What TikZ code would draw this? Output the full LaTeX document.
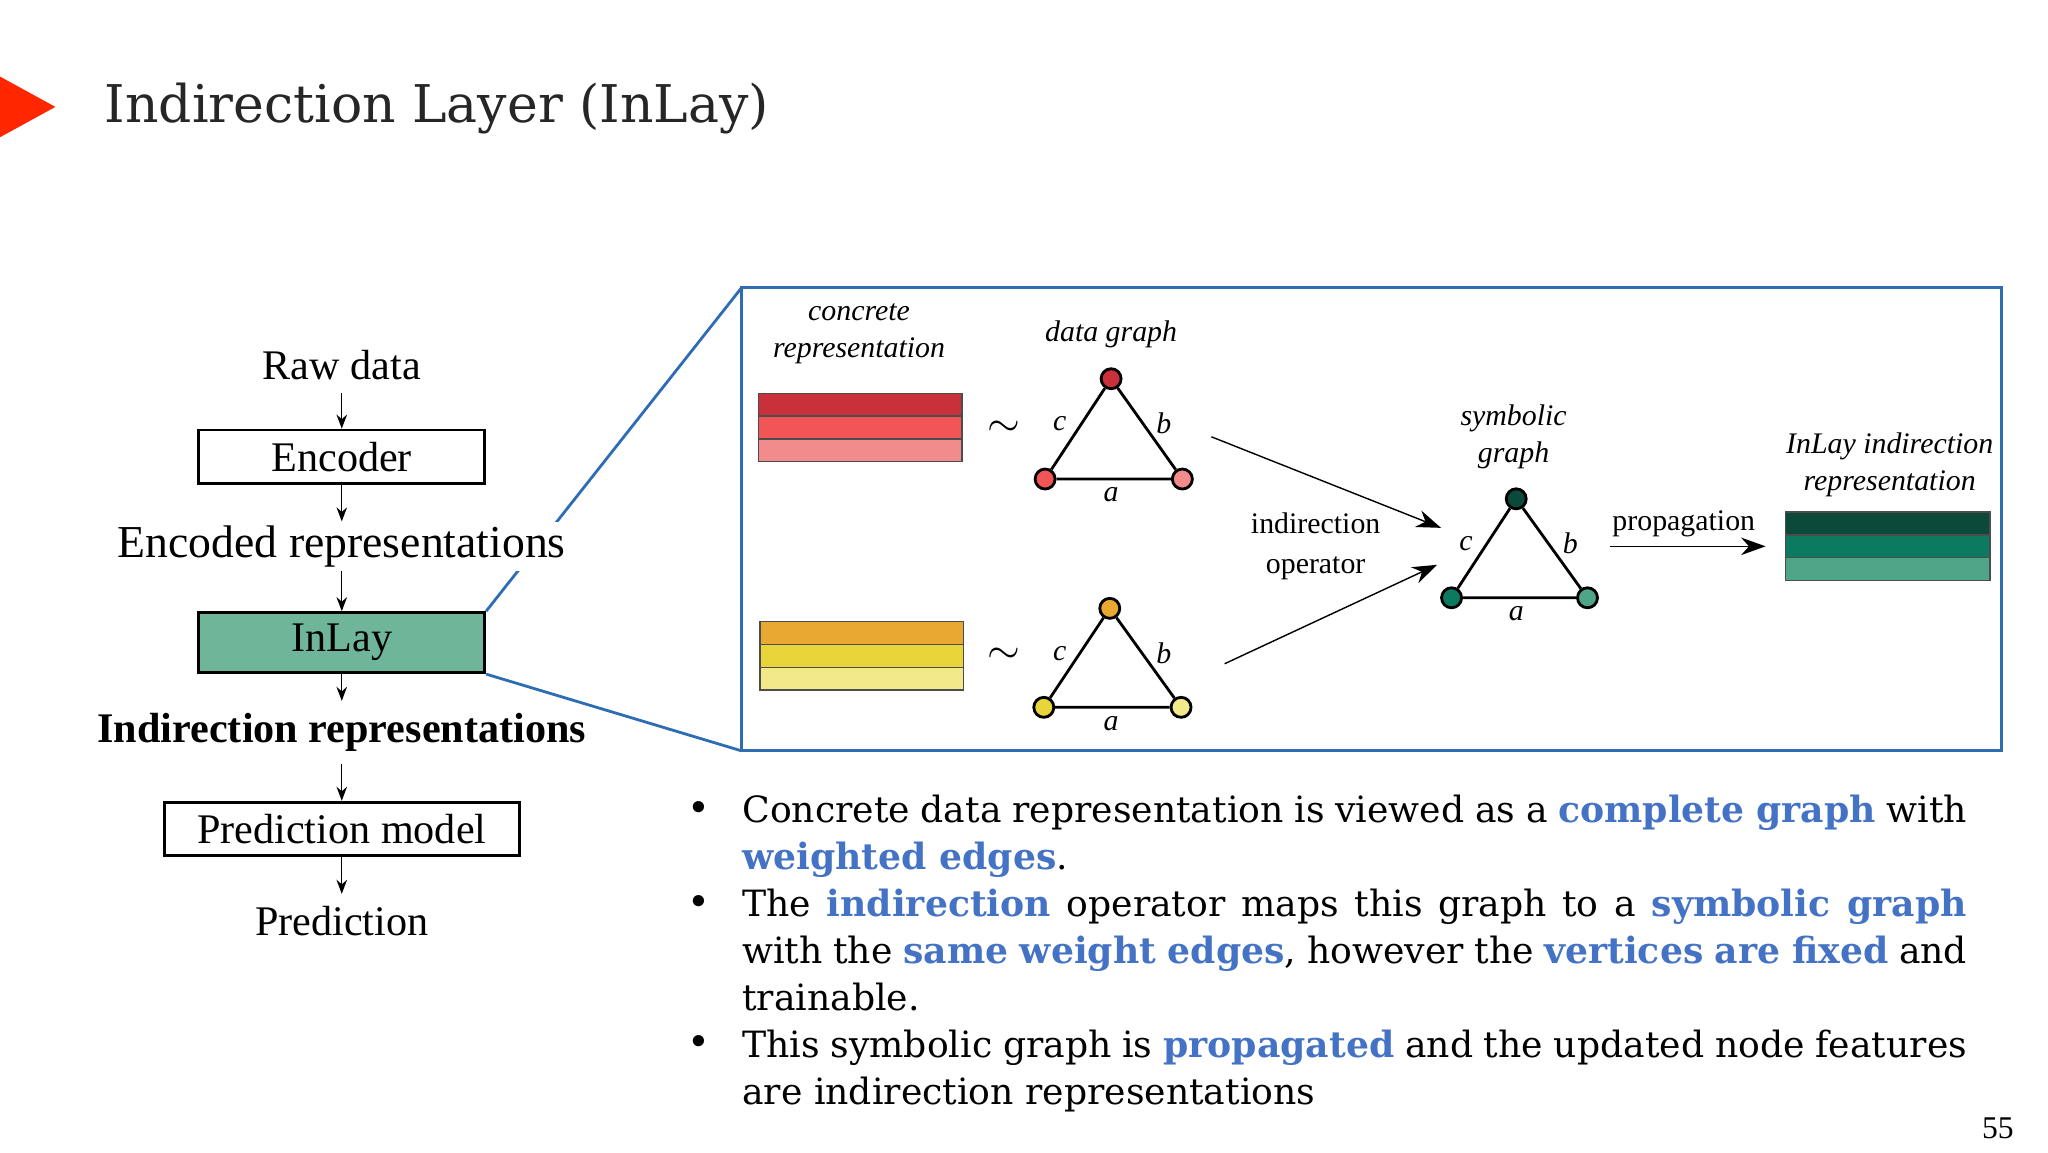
\documentclass[tikz,border=0pt]{standalone}
\usepackage{fontspec}
\setmainfont{DejaVu Serif}
\newfontfamily\tms{Liberation Serif}
\usetikzlibrary{arrows.meta}
\definecolor{hl}{HTML}{4472C4}
\definecolor{frame}{HTML}{2E6DB4}
\definecolor{r1}{HTML}{C8303A}\definecolor{r2}{HTML}{F25555}\definecolor{r3}{HTML}{F28C8C}
\definecolor{y1}{HTML}{E9A832}\definecolor{y2}{HTML}{E8D53A}\definecolor{y3}{HTML}{F2EA8A}
\definecolor{t1}{HTML}{0B4A3A}\definecolor{t2}{HTML}{0B7A5E}\definecolor{t3}{HTML}{4FA588}
\definecolor{inl}{HTML}{6FB59A}
\newcommand{\hb}[1]{\textbf{\color{hl}#1}}
\begin{document}
\begin{tikzpicture}[x=0.013196cm,y=-0.013196cm,
 flow/.style={font=\tms\fontsize{12}{14}\selectfont},
 box/.style={draw,thick,minimum height=0.53cm,font=\tms\fontsize{12}{14}\selectfont},
 sm/.style={font=\tms\itshape\fontsize{8.5}{10.5}\selectfont,align=center},
 ft/.style={-{Stealth[length=4pt,width=3pt]},thin},
 ar/.style={-{Stealth[length=7pt,width=5pt]},thin},
 vtx/.style={circle,draw=black,thick,inner sep=0pt,minimum size=0.2cm},
 bar/.style={draw=black!70,thin}]
\useasboundingbox (0,0) rectangle (1552,873);
\fill[red!70!orange] (0,58) -- (42,81) -- (0,104) -- cycle;
\node[anchor=west,font=\fontsize{14.8}{18}\selectfont,text=black!85] (title) at (70,82) {Indirection Layer (InLay)};
% zoom frame
\draw[frame,thick] (562,218) rectangle (1517,569);
\coordinate (bt) at (562,218); \coordinate (bb) at (562,569);
% left flow
\node[box,fill=inl,minimum width=2.86cm] (inlay) at (259,487) {InLay};
\draw[frame,thick] (inlay.north east) -- (bt);
\draw[frame,thick] (inlay.south east) -- (bb);
\node[flow] (raw) at (259,277) {Raw data};
\node[box,fill=white,minimum width=2.86cm] (enc) at (259,346) {Encoder};
\node[flow,fill=white,inner sep=1pt,font=\tms\fontsize{13}{15}\selectfont] (encr) at (259,414) {Encoded representations};
\node[flow,font=\tms\bfseries\fontsize{12}{14}\selectfont] (ind) at (259,555) {Indirection representations};
\node[box,fill=white,minimum width=3.55cm] (pm) at (259,628) {Prediction model};
\node[flow] (pred) at (259,698) {Prediction};
\draw[ft] (raw) -- (enc); \draw[ft] (enc) -- (encr); \draw[ft] (encr) -- (inlay);
\draw[ft] (inlay) -- (ind); \draw[ft] (ind) -- (pm); \draw[ft] (pm) -- (pred);
% bars
\foreach \c [count=\i] in {r1,r2,r3}{\draw[bar,fill=\c] (575,{298+17.3*(\i-1)}) rectangle (729,{298+17.3*\i});}
\foreach \c [count=\i] in {y1,y2,y3}{\draw[bar,fill=\c] (576,{471+17.3*(\i-1)}) rectangle (730,{471+17.3*\i});}
\foreach \c [count=\i] in {t1,t2,t3}{\draw[bar,fill=\c] (1353,{388+17.3*(\i-1)}) rectangle (1508,{388+17.3*\i});}
\node[sm] (cr) at (651,253) {concrete\\representation};
\node[sm] (dg) at (842,253) {data graph};
\node[sm] (sg) at (1147,331) {symbolic\\graph};
\node[sm] (ir) at (1432,352) {InLay indirection\\representation};
\node[font=\tms\fontsize{12}{14}\selectfont] at (761,325) {$\sim$};
\node[font=\tms\fontsize{12}{14}\selectfont] at (761,497) {$\sim$};
% triangles
\node[vtx,fill=r1] (ta) at (842,287) {}; \node[vtx,fill=r2] (tb) at (792,363) {}; \node[vtx,fill=r3] (tc) at (896,363) {};
\draw[thick] (ta) -- (tb) -- (tc) -- (ta);
\node[vtx,fill=y1] (ua) at (841,461) {}; \node[vtx,fill=y2] (ub) at (791,536) {}; \node[vtx,fill=y3] (uc) at (895,536) {};
\draw[thick] (ua) -- (ub) -- (uc) -- (ua);
\node[vtx,fill=t1] (sa) at (1149,378) {}; \node[vtx,fill=t2] (sb) at (1100,453) {}; \node[vtx,fill=t3] (sc) at (1203,453) {};
\draw[thick] (sa) -- (sb) -- (sc) -- (sa);
\foreach \x/\y/\t in {803/321/c,882/321/b,842/375/a,803/495/c,882/495/b,842/548/a,1111/412/c,1190/412/b,1149/465/a}
 \node[sm] at (\x,\y) {\t};
\coordinate (a1) at (918,331); \coordinate (a1e) at (1092,400);
\coordinate (a2) at (928,503); \coordinate (a2e) at (1089,428);
\draw[ar] (a1) -- (a1e); \draw[ar] (a2) -- (a2e);
\node[sm,font=\tms\fontsize{8.5}{11.5}\selectfont] (io) at (997,414) {indirection\\operator};
\node[sm,font=\tms\fontsize{8.5}{10}\selectfont] (pp) at (1276,397) {propagation};
\coordinate (p1) at (1220,414); \coordinate (p2) at (1338,414);
\draw[ar] (p1) -- (p2);
% bullets
\node[anchor=north west,inner sep=0pt,text width=12.25cm,font=\fontsize{10.3}{13.35}\selectfont,align=justify] (txt) at (562,602) {\hyphenpenalty=10000\exhyphenpenalty=10000%
Concrete data representation is viewed as a \hb{complete graph} with \hb{weighted edges}.\\
The \hb{indirection} operator maps this graph to a \hb{symbolic graph} with the \hb{same weight edges}, however the \hb{vertices are fixed} and trainable.\\
This symbolic graph is \hb{propagated} and the updated node features are indirection representations};
\foreach \y in {615,686,792}\node[font=\fontsize{11}{13}\selectfont] at (530,\y) {•};
\node[font=\tms\fontsize{9}{11}\selectfont] (pg) at (1514,855) {55};
\end{tikzpicture}
\end{document}
